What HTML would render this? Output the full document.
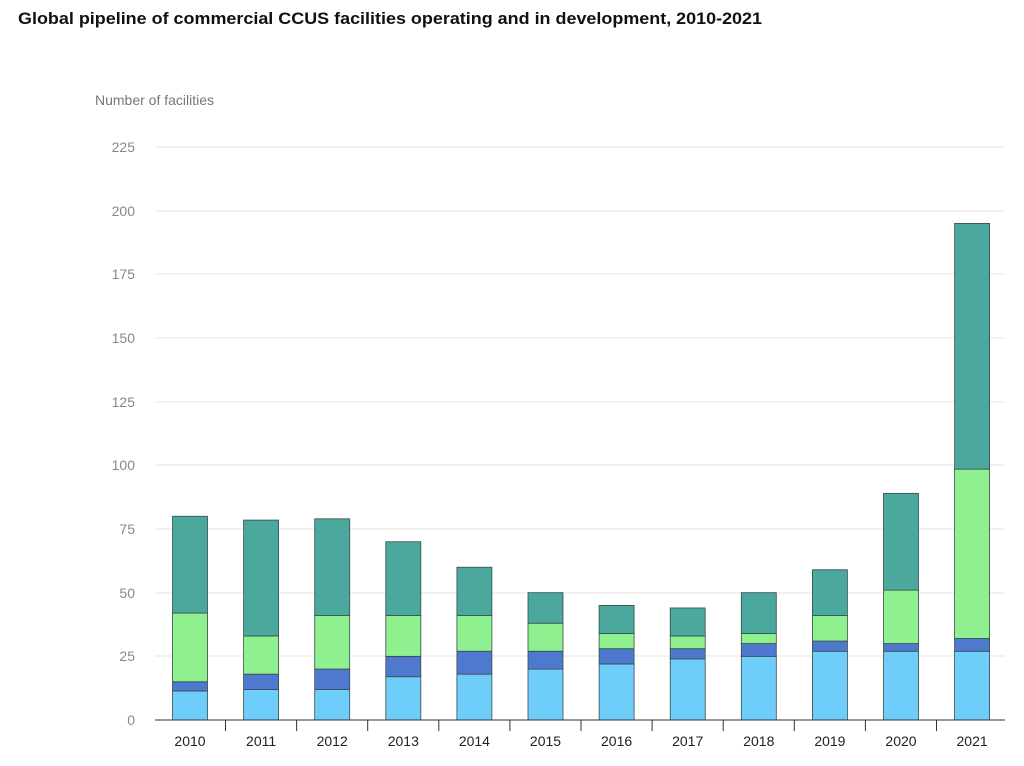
<!DOCTYPE html>
<html><head><meta charset="utf-8"><style>
body{margin:0;background:#fff;}
svg{display:block;font-family:"Liberation Sans",sans-serif;}
</style></head><body>
<svg width="1024" height="766" viewBox="0 0 1024 766">
<text x="18" y="24" font-size="17" font-weight="bold" fill="#111" textLength="744" lengthAdjust="spacingAndGlyphs">Global pipeline of commercial CCUS facilities operating and in development, 2010-2021</text>
<text x="95" y="105" font-size="14" fill="#777">Number of facilities</text>
<g stroke="#e6e6e6" stroke-width="1">
<line x1="155" x2="1005" y1="147" y2="147"/><line x1="155" x2="1005" y1="211" y2="211"/>
<line x1="155" x2="1005" y1="274" y2="274"/><line x1="155" x2="1005" y1="338" y2="338"/>
<line x1="155" x2="1005" y1="402" y2="402"/><line x1="155" x2="1005" y1="465" y2="465"/>
<line x1="155" x2="1005" y1="529" y2="529"/><line x1="155" x2="1005" y1="593" y2="593"/>
<line x1="155" x2="1005" y1="656" y2="656"/>
</g>
<g font-size="14" fill="#888" text-anchor="end">
<text x="135" y="152">225</text><text x="135" y="216">200</text><text x="135" y="279">175</text>
<text x="135" y="343">150</text><text x="135" y="407">125</text><text x="135" y="470">100</text>
<text x="135" y="534">75</text><text x="135" y="598">50</text><text x="135" y="661">25</text>
<text x="135" y="725">0</text>
</g>
<g id="bars" stroke="#3a4a4a" stroke-width="0.8"></g>
<line x1="155" x2="1005" y1="720" y2="720" stroke="#333" stroke-width="1"/>
<g id="xl" font-size="14" fill="#222" text-anchor="middle"></g>
<script>
var d=[[11.4,15,42,80],[12,18,33,78.5],[12,20,41,79],[17,25,41,70],[18,27,41,60],[20,27,38,50],[22,28,34,45],[24,28,33,44],[25,30,34,50],[27,31,41,59],[27,30,51,89],[27,32,98.5,195]];
var c=["#6fcdf9","#4f79cf","#8ef08f","#4aa89d"];
var g=document.getElementById("bars"),xl=document.getElementById("xl"),ns="http://www.w3.org/2000/svg";
function y(v){return 720-v*2.5467;}
d.forEach(function(b,i){var cx=190+i*71.1,prev=0;
b.forEach(function(v,k){var r=document.createElementNS(ns,"rect");
r.setAttribute("x",cx-17.5);r.setAttribute("width",35);r.setAttribute("y",y(v));r.setAttribute("height",y(prev)-y(v));r.setAttribute("fill",c[k]);g.appendChild(r);prev=v;});
var t=document.createElementNS(ns,"text");t.setAttribute("x",cx);t.setAttribute("y",746);t.textContent=2010+i;xl.appendChild(t);
if(i<11){var tk=document.createElementNS(ns,"line");tk.setAttribute("x1",cx+35.5);tk.setAttribute("x2",cx+35.5);tk.setAttribute("y1",720);tk.setAttribute("y2",731);tk.setAttribute("stroke","#333");xl.appendChild(tk);}
});
</script>
</svg>
</body></html>
